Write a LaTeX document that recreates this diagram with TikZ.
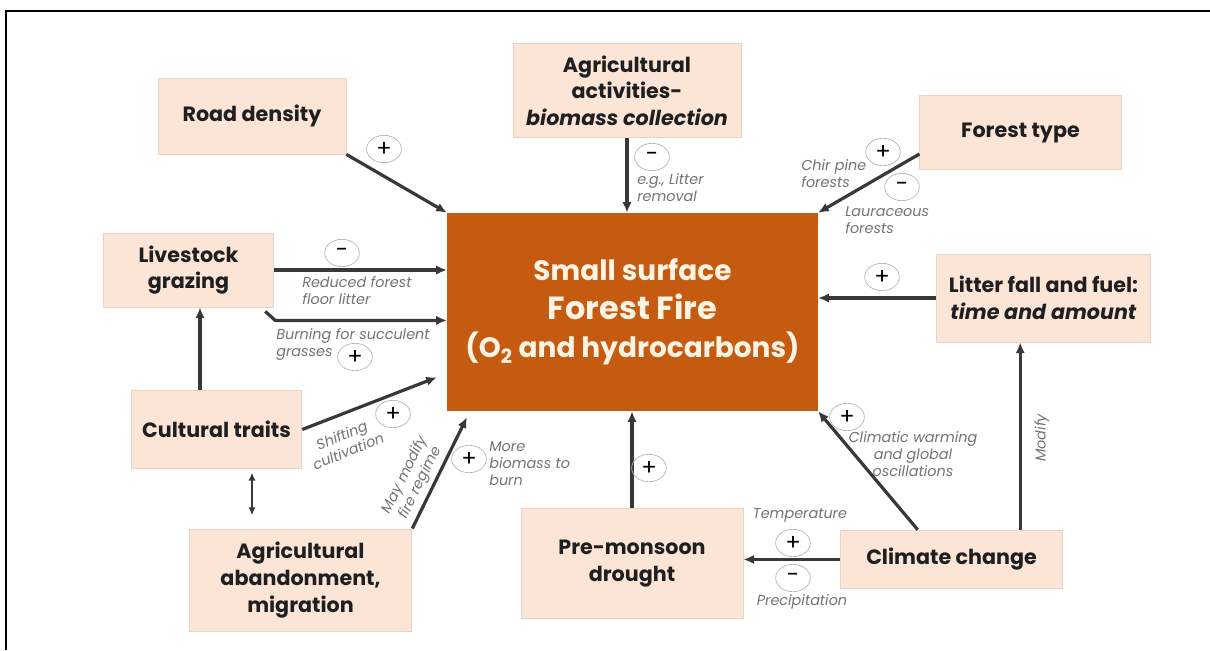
\documentclass[tikz,border=0pt]{standalone}
\usepackage{fontspec}
\setmainfont{Poppins}
\usetikzlibrary{calc,arrows.meta,shapes.geometric}
\definecolor{peach}{HTML}{FBE5D6}
\definecolor{peachline}{HTML}{EAD3C4}
\definecolor{firebrown}{HTML}{C55A11}
\definecolor{cream}{HTML}{FFF3E3}
\definecolor{arrowgray}{HTML}{383838}
\definecolor{notegray}{HTML}{737373}

\tikzset{
  factor/.style={draw=peachline, fill=peach, line width=0.6pt, align=center,
    inner sep=0pt, text=black!88, font=\fontsize{15.5}{20}\selectfont\bfseries},
  firebox/.style={fill=firebrown, align=center, inner sep=0pt, text=cream,
    minimum width=278pt, minimum height=148.5pt,
    font=\fontsize{21}{29}\selectfont\bfseries},
  link/.style={draw=arrowgray, line width=2.4pt, -{Latex[length=8pt,width=7pt]}},
  twoway/.style={draw=arrowgray, line width=1.6pt,
    {Latex[length=6pt,width=5.5pt]}-{Latex[length=6pt,width=5.5pt]}},
  sign/.style={ellipse, draw=gray!60, line width=0.5pt, minimum width=26pt,
    minimum height=20.5pt, inner sep=0pt, font=\fontsize{17}{17}\selectfont},
  note/.style={text=notegray, inner sep=0pt, font=\fontsize{10.8}{12.8}\selectfont\itshape},
}

\begin{document}
\begin{tikzpicture}[x=0.75pt,y=-0.75pt]
\useasboundingbox (0,0) rectangle (1210,650);
\draw[line width=1.5pt] (6,650) -- (6,11) -- (1210,11);

% factors
\node[factor, minimum width=141pt, minimum height=57pt] (road) at (252,116) {Road density};
\node[factor, minimum width=171pt, minimum height=71pt] (agri) at (627,90.5) {Agricultural\\activities-\\\textit{biomass collection}};
\node[factor, minimum width=151pt, minimum height=56pt] (forest) at (1020.5,132.5) {Forest type};
\node[factor, minimum width=161pt, minimum height=66pt] (litter) at (1043.5,298) {Litter fall and fuel:\\\textit{time and amount}};
\node[factor, minimum width=128pt, minimum height=55.5pt] (livestock) at (188.5,270) {Livestock\\grazing};
\node[factor, minimum width=128pt, minimum height=58pt] (cultural) at (216.5,429.5) {Cultural traits};
\node[factor, minimum width=167pt, minimum height=76.5pt] (abandon) at (300.5,580) {Agricultural\\abandonment,\\migration};
\node[factor, minimum width=166.5pt, minimum height=82pt] (drought) at (632,563.5) {Pre-monsoon\\drought};
\node[factor, minimum width=167pt, minimum height=44pt] (climate) at (951.5,559.5) {Climate change};
\node[firebox] (fire) at (632.5,312) {Small surface\\{\fontsize{24}{29}\selectfont Forest Fire}\\(O\textsubscript{2} and hydrocarbons)};

% links
\draw[link] (road.south east) -- (fire.north west);
\draw[link] (agri.south) -- (agri.south |- fire.north);
\draw[link] (forest.192) -- (fire.north east);
\draw[link] (litter.west) -- (litter.west -| fire.east);
\coordinate (cc-modify) at ($(climate.north east)+(-43,0)$);
\draw[link] (cc-modify) -- (cc-modify |- litter.south);
\coordinate (cc-warm) at ($(climate.north west)+(78,0)$);
\draw[link] (cc-warm) -- (fire.south east);
\draw[link] (climate.west) -- (climate.west -| drought.east);
\draw[link] (drought.north) -- (drought.north |- fire.south);
\draw[link] (livestock.east) -- (livestock.east -| fire.west);
\coordinate (ls-bend) at ($(livestock.south east)+(1,13)$);
\draw[link] ($(livestock.south east)+(-9,4)$) -- (ls-bend) -- (ls-bend -| fire.west);
\coordinate (ct-up) at ($(cultural.north)+(-16.5,0)$);
\draw[link] (ct-up) -- (ct-up |- livestock.south);
\draw[link] (cultural.east) -- ($(fire.south west)+(-10,-34)$);
\coordinate (ct-down) at ($(cultural.south)+(35.5,0)$);
\draw[twoway, shorten <=3pt, shorten >=10pt] (ct-down) -- (ct-down |- abandon.north);
\draw[link] (abandon.north east) -- ($(fire.south west)+(20,6)$);

% signs and notes
\node[sign] (s-road) at (384,149) {+};
\node[sign] (s-agri) at (652,157) {-};
\node[note, anchor=west, align=left] (n-agri) at (637,188) {e.g., Litter\\removal};
\node[sign] (s-chir) at (883,152) {+};
\node[note, anchor=west, align=left] (n-chir) at (801,174) {Chir pine\\forests};
\node[sign] (s-laur) at (902,187) {-};
\node[note, anchor=west, align=left] (n-laur) at (845,220) {Lauraceous\\forests};
\node[sign] (s-litter) at (882,277) {+};
\node[note, rotate=90] (n-modify) at (1042,438) {Modify};
\node[sign] (s-warm) at (847,417) {+};
\node[note, align=center] (n-warm) at (913,454) {Climatic warming\\and global\\oscillations};
\node[note] (n-temp) at (800,515) {Temperature};
\node[sign] (s-temp) at (793,543) {+};
\node[sign] (s-prec) at (793,578) {-};
\node[note] (n-prec) at (802,602) {Precipitation};
\node[sign] (s-drought) at (649,468) {+};
\node[sign] (s-biomass) at (469,459) {+};
\node[note, anchor=west, align=left] (n-biomass) at (489,464) {More\\biomass to\\burn};
\node[note, rotate=64, align=center] (n-regime) at (413,479) {May modify\\fire regime};
\node[sign] (s-shift) at (393,414) {+};
\node[note, rotate=22, align=center] (n-shift) at (345,443) {Shifting\\cultivation};
\node[sign] (s-reduced) at (342,253) {-};
\node[note, anchor=west, align=left] (n-reduced) at (302,291) {Reduced forest\\floor litter};
\node[note, anchor=west, align=left] (n-burning) at (276,344) {Burning for succulent\\grasses};
\node[sign] (s-burning) at (355,357) {+};
\end{tikzpicture}
\end{document}
